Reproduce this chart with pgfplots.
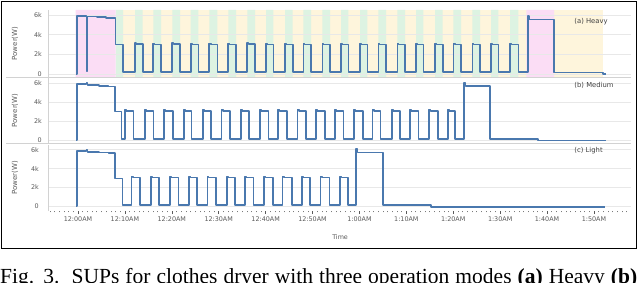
\documentclass[border=0pt]{standalone}
\usepackage{pgfplots}
\pgfplotsset{compat=1.18}
\usepackage{fontspec}
\setmainfont{DejaVu Sans}
\newfontfamily\capfont{Liberation Serif}
\definecolor{ln}{HTML}{4A78AE}
\definecolor{pk}{HTML}{FBDDF5}
\definecolor{yl}{HTML}{FEF5DC}
\definecolor{gn}{HTML}{DDF3E2}
\definecolor{tk}{HTML}{5A5A5A}
\tikzset{ttl/.style={anchor=west, font=\fontsize{6.8}{8}\selectfont, text=black!75}}
\pgfplotsset{
 panel/.style={scale only axis, width=583pt, xmin=-6.4, xmax=117.9,
   axis x line*=bottom, axis y line*=left, axis line style={draw=gray!35,-},
   ytick={0,2000,4000,6000}, yticklabels={0,2k,4k,6k},
   ymajorgrids, grid style={gray!18, line width=0.5pt},
   ytick style={draw=none}, xtick=\empty,
   major tick length=3pt,
   tick label style={font=\fontsize{6.4}{7}\selectfont, text=tk},
   yticklabel style={inner sep=0pt, xshift=-6pt},
   ylabel={Power(W)},
   ylabel style={at={(axis description cs:-0.0566,0.5)}, anchor=center, font=\fontsize{7}{8}\selectfont, text=tk},
   clip=false},
 dat/.style={const plot, color=ln, line width=1.7pt, line join=round},
 bg/.style={scale only axis, width=583pt, xmin=-6.4, xmax=117.9, ymin=0, ymax=1, hide axis},
}
\begin{document}
\begin{tikzpicture}
% ---------- (a) background shading
\begin{axis}[bg, height=67pt, at={(48pt,205pt)}, anchor=south west]
\addplot[fill=yl, draw=none] coordinates {(8.0,1)(112.0,1)} \closedcycle;
\addplot[const plot, fill=gn, draw=none] coordinates {(8.0,1)(9.6,0)
(12.15,1)(13.79,0)(16.06,1)(17.70,0)(20.11,1)(21.75,0)(24.02,1)(25.66,0)
(28.00,1)(29.71,0)(32.05,1)(33.69,0)(36.10,1)(37.74,0)(40.09,1)(41.65,0)
(44.14,1)(45.77,0)(48.05,1)(49.68,0)(52.10,1)(53.73,0)(56.08,1)(57.64,0)
(60.13,1)(61.69,0)(64.04,1)(65.67,0)(68.09,1)(69.72,0)(72.07,1)(73.63,0)
(76.12,1)(77.76,0)(80.03,1)(81.66,0)(84.08,1)(85.71,0)(88.06,1)(89.62,0)
(92.11,1)(93.89,0)} \closedcycle;
\addplot[const plot, fill=pk, draw=none] coordinates {(-0.5,1)(8.0,0)(95.6,1)(101.5,0)} \closedcycle;
\end{axis}
% ---------- (a) Heavy
\begin{axis}[panel, height=67pt, at={(48pt,205pt)}, anchor=south west, ymin=-300, ymax=6500]
\addplot[dat] coordinates {(-0.4,0)(-0.2,5900)(1.8,300)(2.05,5850)(4.0,5780)(6.0,5700)(8.0,3000)(9.6,200)
(12.15,3150)(12.4,3050)(13.79,200)
(16.06,3100)(16.3,3000)(17.70,200)
(20.11,3150)(20.35,3050)(21.75,200)
(24.02,3100)(24.3,3000)(25.66,200)
(28.00,3100)(28.3,3000)(29.71,200)
(32.05,3100)(32.3,3000)(33.69,200)
(36.10,3150)(36.35,3050)(37.74,200)
(40.09,3100)(40.3,3000)(41.65,200)
(44.14,3100)(44.4,3000)(45.77,200)
(48.05,3100)(48.3,3000)(49.68,200)
(52.10,3100)(52.3,3000)(53.73,200)
(56.08,3100)(56.3,3000)(57.64,200)
(60.13,3100)(60.4,3000)(61.69,200)
(64.04,3100)(64.3,3000)(65.67,200)
(68.09,3100)(68.3,3000)(69.72,200)
(72.07,3100)(72.3,3000)(73.63,200)
(76.12,3100)(76.4,3000)(77.76,200)
(80.03,3100)(80.3,3000)(81.66,200)
(84.08,3100)(84.3,3000)(85.71,200)
(88.06,3100)(88.3,3000)(89.62,200)
(92.11,3100)(92.4,3000)(93.89,200)
(95.9,5900)(96.2,5550)(101.5,150)(112.0,0)(112.5,0)};
\node[ttl] at (axis description cs:0.897,0.82) {(a) Heavy};
\end{axis}
% ---------- (b) Medium
\begin{axis}[panel, height=65pt, at={(48pt,139pt)}, anchor=south west, ymin=-300, ymax=6500]
\addplot[dat] coordinates {(-0.4,0)(-0.2,5850)(1.8,5950)(2.05,5750)(4.5,5680)(6.5,5600)(7.9,3000)(9.3,150)
(10.02,3200)(10.3,3050)(11.8,150)
(14.29,3200)(14.5,3050)(16.1,150)
(18.34,3200)(18.6,3050)(20.2,150)
(22.6,3200)(22.85,3050)(24.2,150)
(26.6,3200)(26.85,3050)(28.3,150)
(30.6,3200)(30.85,3050)(32.4,150)
(34.7,3200)(34.95,3050)(36.5,150)
(38.8,3200)(39.05,3050)(40.6,150)
(42.7,3200)(42.95,3050)(44.5,150)
(46.8,3200)(47.05,3050)(48.6,150)
(50.7,3200)(50.95,3050)(52.7,150)
(54.8,3200)(55.05,3050)(56.6,150)
(58.8,3200)(59.05,3050)(60.7,150)
(62.8,3200)(63.05,3050)(64.5,150)
(66.9,3200)(67.15,3050)(68.7,150)
(70.8,3200)(71.05,3050)(72.6,150)
(74.9,3200)(75.15,3050)(76.8,150)
(78.9,3200)(79.15,3050)(80.4,150)
(82.3,6000)(82.6,5650)(87.8,150)(98.1,-50)(112.6,-50)};
\node[ttl] at (axis description cs:0.897,0.89) {(b) Medium};
\end{axis}
% ---------- (c) Light
\begin{axis}[panel, height=66pt, at={(48pt,71pt)}, anchor=south west, ymin=-500, ymax=6500,
  x axis line style={draw=none},
  xtick={0,10,...,110},
  xticklabels={12:00AM,12:10AM,12:20AM,12:30AM,12:40AM,12:50AM,1:00AM,1:10AM,1:20AM,1:30AM,1:40AM,1:50AM},
  minor xtick={-6,-5,...,117},
  tick align=outside, minor tick length=1.4pt,
  xtick style={draw=tk, line width=0.5pt},
  minor x tick style={draw=tk!80, line width=0.6pt},
  xticklabel style={inner sep=0pt, anchor=north, yshift=-2.5pt},
  xlabel={Time},
  xlabel style={at={(axis description cs:0.501,-0.394)}, anchor=center, font=\fontsize{6.4}{7}\selectfont, text=tk}]
\addplot[dat] coordinates {(-0.4,0)(-0.2,5900)(1.8,6000)(2.05,5750)(4.5,5700)(6.5,5620)(7.9,2950)(9.5,100)
(11.4,3150)(11.65,3050)(13.2,100)
(15.5,3150)(15.75,3050)(17.3,100)
(19.6,3150)(19.85,3050)(21.4,100)
(23.7,3150)(23.95,3050)(25.4,100)
(27.6,3150)(27.85,3050)(29.4,100)
(31.7,3150)(31.95,3050)(33.5,100)
(35.6,3150)(35.85,3050)(37.4,100)
(39.7,3150)(39.95,3050)(41.5,100)
(43.6,3150)(43.85,3050)(45.6,100)
(47.7,3150)(47.95,3050)(49.5,100)
(51.7,3150)(51.95,3050)(53.6,100)
(55.9,3150)(56.15,3050)(57.5,100)
(59.3,6100)(59.6,5700)(65.0,150)(75.3,-80)(112.4,-80)};
\node[ttl] at (axis description cs:0.897,0.92) {(c) Light};
\end{axis}
% separators extending into the label area
\draw[gray!35, line width=0.5pt] (6pt,205pt) -- (48pt,205pt);
\draw[gray!35, line width=0.5pt] (6pt,139pt) -- (48pt,139pt);
% frame
\draw[line width=1.2pt] (1.5pt,33.5pt) rectangle (636.5pt,280.5pt);
% caption
\node[anchor=base west, inner sep=0pt] at (0pt,-1.5pt) {\capfont\fontsize{21.5}{24}\selectfont\makebox[637pt][s]{Fig. 3.\ \ SUPs for clothes dryer with three operation modes \textbf{(a)} Heavy \textbf{(b)}}};
\pgfresetboundingbox
\useasboundingbox (0pt,0pt) rectangle (640pt,282pt);
\end{tikzpicture}
\end{document}
